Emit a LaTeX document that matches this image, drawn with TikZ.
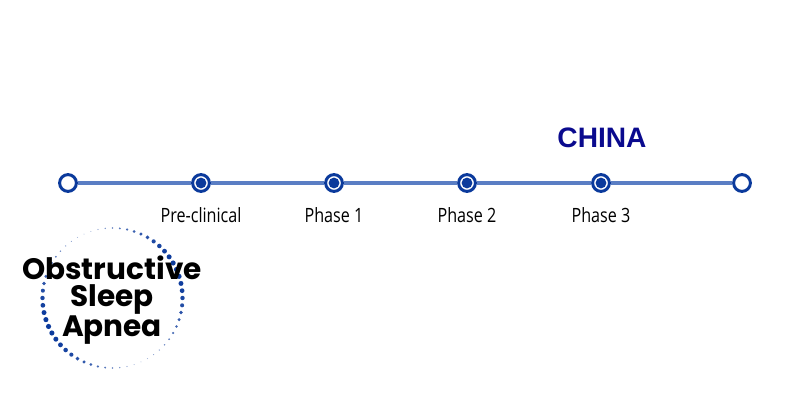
\documentclass[tikz,border=0pt]{standalone}
\usepackage{fontspec}
\setmainfont{Liberation Sans}
\newfontfamily\phasefont[FakeStretch=0.82]{Open Sans}
\newfontfamily\diseasefont{Poppins}
\usetikzlibrary{positioning}
\definecolor{trackblue}{HTML}{5A7EC4}
\definecolor{stopblue}{HTML}{0B3A9C}
\definecolor{chinablue}{HTML}{0A0A8E}

\begin{document}
\begin{tikzpicture}[x=0.025cm,y=-0.025cm]
\tikzstyle{openstop} = [circle, draw=stopblue, fill=white, line width=2.1pt, minimum size=0.42cm, inner sep=0pt]
\tikzstyle{donestop} = [openstop, path picture={\fill[stopblue] (path picture bounding box.center) circle (0.135cm);}]
\tikzstyle{phase} = [font=\phasefont\fontsize{14}{16}\selectfont, inner sep=0pt, node distance=0.36cm]
\tikzstyle{track} = [draw=trackblue, line width=2.8pt]

\useasboundingbox (0,0) rectangle (800,400);

% dotted ring round the disease name
\foreach \a in {0,6,...,354}
  \fill[stopblue, opacity={0.35+0.65*abs(cos(\a-25))}] ({112.5+70*cos(\a)},{298-70*sin(\a)}) circle ({0.5+2.1*cos(\a-25)*cos(\a-25)});

% track
\node[openstop] (s0) at (68,183) {};
\node[donestop] (s1) at (201,183) {};
\node[donestop] (s2) at (334,183) {};
\node[donestop] (s3) at (467,183) {};
\node[donestop] (s4) at (601,183) {};
\node[openstop] (s5) at (742,183) {};
\draw[track] (s0) -- (s1) -- (s2) -- (s3) -- (s4) -- (s5);

\node[phase] (p1) [below = of s1] {Pre-clinical};
\node[phase] (p2) [below = of s2] {Phase 1};
\node[phase] (p3) [below = of s3] {Phase 2};
\node[phase] (p4) [below = of s4] {Phase 3};

\node[font=\bfseries\fontsize{20}{22}\selectfont, text=chinablue] (china) at (602,138) {CHINA};

\node[font=\diseasefont\bfseries\fontsize{21}{19.5}\selectfont, align=center] (osa) at (112,300) {Obstructive\\Sleep\\Apnea};
\end{tikzpicture}
\end{document}
